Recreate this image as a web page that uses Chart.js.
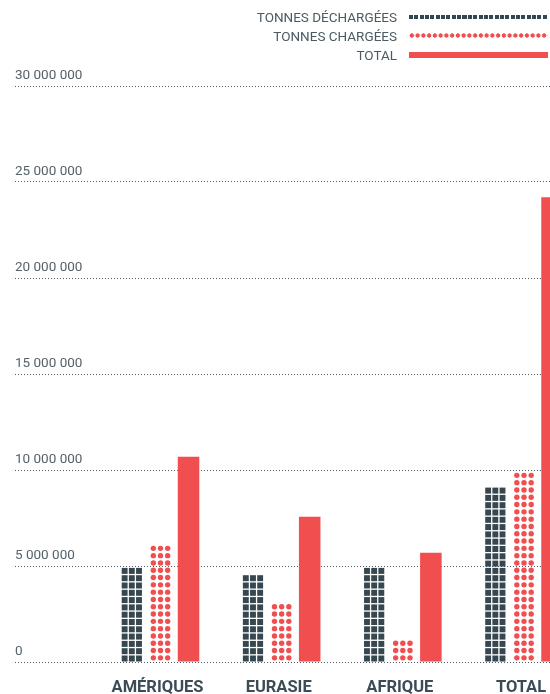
<!DOCTYPE html>
<html lang="fr">
<head>
<meta charset="utf-8">
<script src="https://cdn.jsdelivr.net/npm/chart.js@4.4.0/dist/chart.umd.min.js"></script>
<style>
html, body { margin: 0; padding: 0; background: #fff; overflow: hidden; }
#wrap { position: relative; width: 550px; height: 694px; }
#legende { position: absolute; top: 0; left: 0; width: 550px; height: 70px; font-family: Roboto, sans-serif; font-size: 13.5px; color: #4b5a63; }
.txt { position: absolute; right: 153px; line-height: 16px; white-space: nowrap; }
.sym { position: absolute; left: 409px; width: 139px; }
.s1 { top: 14.5px; height: 4.4px; background: repeating-linear-gradient(to right, #36474f 0 4px, transparent 4px 5.35px); }
.s2 { top: 33px; height: 5.4px; background: radial-gradient(circle, #f04e4f 2.1px, transparent 2.5px); background-size: 5.75px 5.4px; }
.s3 { top: 52px; height: 6px; background: #f04e4f; }
</style>
</head>
<body>
<div id="wrap">
  <canvas id="graphique" width="550" height="694"></canvas>
  <div id="legende">
    <span class="txt" style="top:8.5px">TONNES DÉCHARGÉES</span><div class="sym s1"></div>
    <span class="txt" style="top:27.5px">TONNES CHARGÉES</span><div class="sym s2"></div>
    <span class="txt" style="top:47px">TOTAL</span><div class="sym s3"></div>
  </div>
</div>
<script>
const categories = ['AMÉRIQUES', 'EURASIE', 'AFRIQUE', 'TOTAL'];
const tonnesDechargees = [4950000, 4550000, 4950000, 9200000];
const tonnesChargees = [6060000, 2980000, 1040000, 9930000];
const totalTonnes = [10690000, 7570000, 5690000, 24200000];
const yTicks = [0, 5000000, 10000000, 15000000, 20000000, 25000000, 30000000];

const ROUGE = '#f04e4f';
const ARDOISE = '#36474f';
const ROW = 7.3;

function format(n) {
    return String(n).replace(/\B(?=(\d{3})+(?!\d))/g, ' ');
}

function points(values) {
    return values.map((v, i) => ({ x: i, y: v }));
}

// dessine les carrés / points dans les barres transparentes
const motifs = {
    id: 'motifs',
    afterDatasetsDraw(chart) {
        const ctx = chart.ctx;
        ctx.save();
        chart.data.datasets.forEach((ds, i) => {
            if (!ds.motif) return;
            const meta = chart.getDatasetMeta(i);
            meta.data.forEach(bar => {
                const { x, y, base, width } = bar.getProps(['x', 'y', 'base', 'width'], true);
                const left = x - width / 2;
                const cw = width / 3;
                const rows = Math.round((base - y) / ROW);
                ctx.fillStyle = ds.motifColor;
                for (let r = 0; r < rows; r++) {
                    for (let c = 0; c < 3; c++) {
                        if (ds.motif === 'carres') {
                            ctx.fillRect(left + c * cw, base - (r + 1) * ROW + 1.3, cw - 1.3, ROW - 1.3);
                        } else {
                            ctx.beginPath();
                            ctx.arc(left + (c + 0.5) * cw, base - (r + 0.5) * ROW, 2.7, 0, Math.PI * 2);
                            ctx.fill();
                        }
                    }
                }
            });
        });
        ctx.restore();
    }
};

Chart.defaults.font.family = 'Roboto, sans-serif';

new Chart(document.getElementById('graphique'), {
    type: 'bar',
    data: {
        datasets: [
            { label: 'TONNES DÉCHARGÉES', data: points(tonnesDechargees), backgroundColor: 'transparent', motif: 'carres', motifColor: ARDOISE },
            { label: 'TONNES CHARGÉES', data: points(tonnesChargees), backgroundColor: 'transparent', motif: 'points', motifColor: ROUGE },
            { label: 'TOTAL', data: points(totalTonnes), backgroundColor: ROUGE }
        ]
    },
    options: {
        responsive: false,
        animation: false,
        categoryPercentage: 0.694,
        barPercentage: 0.768,
        layout: { padding: { top: 86, left: 15, right: 0, bottom: 0 } },
        plugins: { legend: { display: false }, tooltip: { enabled: false } },
        scales: {
            x: {
                type: 'linear',
                offset: false,
                min: -1.2008,
                max: 3.2145,
                afterBuildTicks: axis => { axis.ticks = categories.map((c, i) => ({ value: i })); },
                afterFit: axis => {
                    axis.height = 32;
                    axis.paddingLeft = 0;
                    axis.paddingRight = 0;
                },
                grid: { display: false, offset: false },
                border: { display: false },
                ticks: {
                    callback: v => categories[v],
                    font: { size: 16.5, weight: 'bold' },
                    color: '#3b4c56',
                    padding: 8,
                    labelOffset: -3,
                    maxRotation: 0,
                    autoSkip: false
                }
            },
            y: {
                min: 0,
                max: 30000000,
                afterBuildTicks: axis => { axis.ticks = yTicks.map(v => ({ value: v })); },
                grid: { color: '#4f5a63', drawTicks: false },
                border: { display: false, dash: [1, 2] },
                ticks: {
                    mirror: true,
                    padding: 0,
                    labelOffset: -10,
                    font: { size: 13.5 },
                    color: '#56626a',
                    callback: v => format(v)
                }
            }
        }
    },
    plugins: [motifs]
});
</script>
</body>
</html>
